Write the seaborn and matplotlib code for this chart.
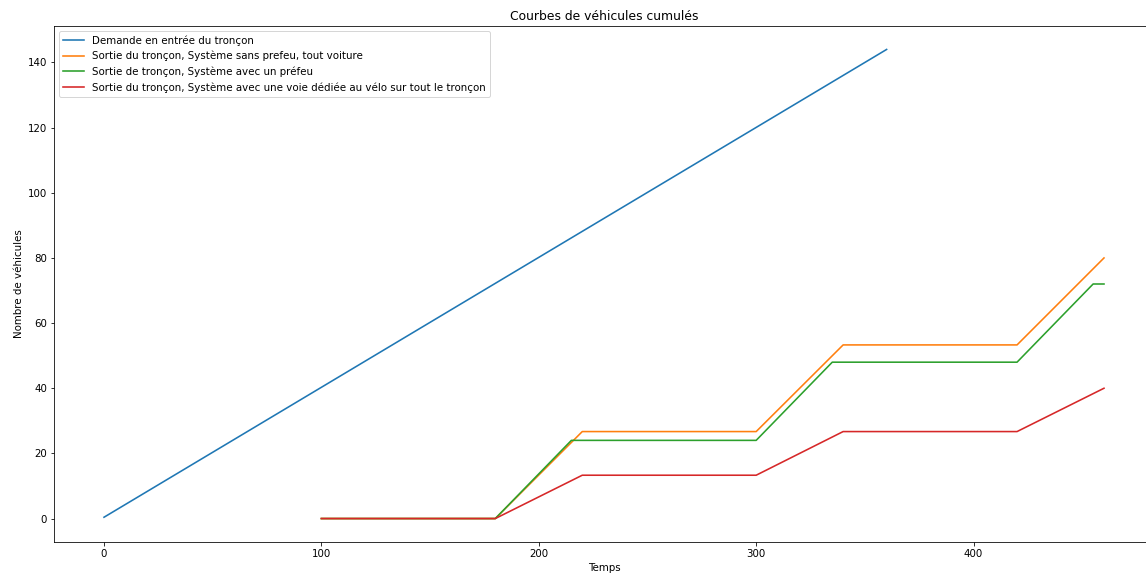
import pandas as pd
import seaborn as sns
import matplotlib.pyplot as plt

# cumulative vehicle counts
t_demand = [0, 360]
n_demand = [0.4, 144]

t_sans = [100, 180, 220, 300, 340, 420, 460]
n_sans = [0, 0, 26.7, 26.7, 53.3, 53.3, 80]

t_prefeu = [100, 180, 215, 300, 335, 420, 455, 460]
n_prefeu = [0, 0, 24, 24, 48, 48, 72, 72]

t_velo = [100, 180, 220, 300, 340, 420, 460]
n_velo = [0, 0, 13.3, 13.3, 26.7, 26.7, 40]

labels = ['Demande en entrée du tronçon',
          'Sortie du tronçon, Système sans prefeu, tout voiture',
          'Sortie de tronçon, Système avec un préfeu',
          'Sortie du tronçon, Système avec une voie dédiée au vélo sur tout le tronçon']

series = [(t_demand, n_demand), (t_sans, n_sans), (t_prefeu, n_prefeu), (t_velo, n_velo)]
colors = sns.color_palette('tab10', 4)

plt.rcParams['font.size'] = 10.3

fig = plt.figure(figsize=(1146 / 72, 574 / 72), dpi=72)
ax = fig.add_axes([54 / 1146, 32 / 574, 1100 / 1146, 516 / 574])

for (t, n), lab, c in zip(series, labels, colors):
    df = pd.DataFrame({'t': t, 'n': n})
    sns.lineplot(data=df, x='t', y='n', label=lab, color=c, ax=ax, linewidth=1.6)

ax.set_xlim(-23, 483)
ax.set_ylim(-7.2, 151.2)
ax.set_title('Courbes de véhicules cumulés')
ax.set_xlabel('Temps')
ax.set_ylabel('Nombre de véhicules')
ax.legend(loc='upper left')

fig.savefig('out.png', dpi=72)
